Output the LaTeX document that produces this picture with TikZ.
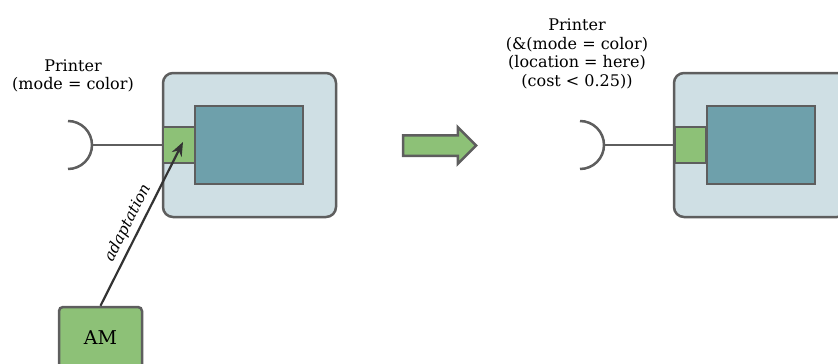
\documentclass[tikz,border=0pt]{standalone}
\usepackage{fontspec}
\setmainfont{DejaVu Serif}
\usetikzlibrary{arrows.meta,shapes.arrows}
\definecolor{edgegray}{HTML}{5E5E5E}
\definecolor{shellblue}{HTML}{CFDFE4}
\definecolor{coreteal}{HTML}{6EA0AB}
\definecolor{portgreen}{HTML}{8DC177}
\tikzset{
  shell/.style={draw=edgegray, fill=shellblue, line width=2.5pt, rounded corners=10pt,
    minimum width=173pt, minimum height=144pt, inner sep=0pt},
  core/.style={draw=edgegray, fill=coreteal, line width=2.5pt,
    minimum width=108pt, minimum height=78pt, inner sep=0pt},
  port/.style={draw=edgegray, fill=portgreen, line width=2.5pt,
    minimum width=32pt, minimum height=36pt, inner sep=0pt},
  socket/.style={draw=edgegray, line width=2.5pt},
  wire/.style={draw=edgegray, line width=2pt},
  reqlabel/.style={font=\fontsize{16}{18.7}\selectfont, inner sep=0pt}
}
\begin{document}
\begin{tikzpicture}[x=1pt, y=-1pt, every node/.style={align=center}]
  \useasboundingbox (0,0) rectangle (838,364);
  \clip (0,0) rectangle (838,364);
  % left: component with a required port and an adaptation manager
  \node[reqlabel] (reqL) at (73,76) {Printer\\(mode = color)};
  \node[shell] (shellL) at (249.5,145) {};
  \node[core] (coreL) at (249,145) {};
  \node[port] (portL) at (179,145) {};
  \coordinate (sockL) at (92,145);
  \draw[socket] (68,121) arc[start angle=-90, end angle=90, radius=24];
  \draw[wire] (sockL) -- (portL.west);
  \node[port, rounded corners=4pt, minimum width=83pt, minimum height=62pt,
    font=\fontsize{19}{22}\selectfont] (AM) at (100.5,338) {AM};
  \coordinate (target) at (183,142);
  \draw[-{Stealth[length=14pt,width=11pt]}, line width=2.2pt, draw=black!80]
    (AM.north) -- (target) node[pos=0.47, above=1pt, sloped, font=\itshape\fontsize{15.5}{17}\selectfont] {adaptation};
  % transformation arrow
  \node[single arrow, draw=edgegray, fill=portgreen, line width=2.5pt,
    inner xsep=0pt, inner ysep=9pt, minimum height=73pt, single arrow head extend=8pt,
    single arrow tip angle=90] (shift) at (434.5,145.5) {};
  % right: component with a refined requirement
  \node[reqlabel] (reqR) at (577,54) {Printer\\(\&(mode = color)\\(location = here)\\(cost < 0.25))};
  \node[shell] (shellR) at (760.5,145) {};
  \node[core] (coreR) at (761,145) {};
  \node[port] (portR) at (690.5,145) {};
  \coordinate (sockR) at (603,145);
  \draw[socket] (580,121) arc[start angle=-90, end angle=90, radius=24];
  \draw[wire] (sockR) -- (portR.west);
\end{tikzpicture}
\end{document}
